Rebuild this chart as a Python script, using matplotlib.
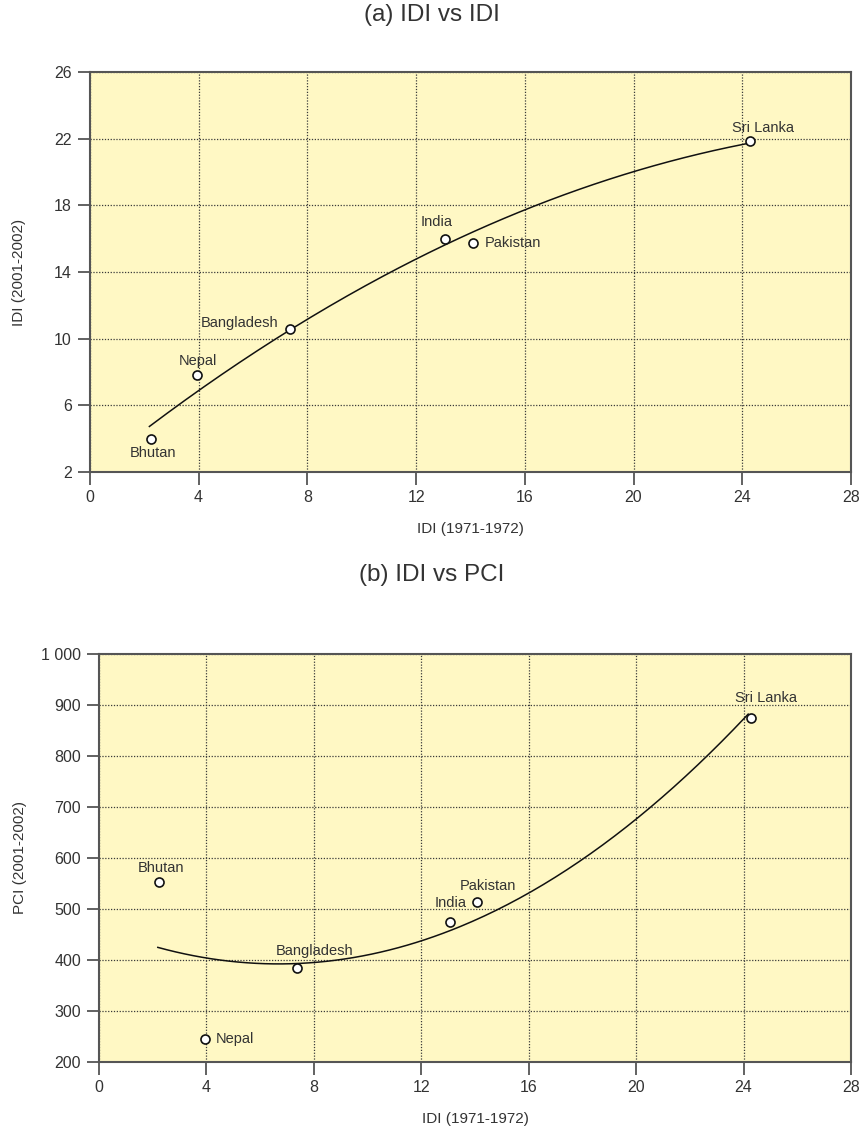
import matplotlib
matplotlib.use("Agg")
import matplotlib.pyplot as plt
import numpy as np

plt.rcParams['font.family'] = ['Liberation Sans', 'DejaVu Sans']

countries = ["Bhutan", "Nepal", "Bangladesh", "India", "Pakistan", "Sri Lanka"]
idi_1971 = [2.24, 3.95, 7.38, 13.05, 14.08, 24.27]
idi_2001 = [3.98, 7.82, 10.55, 15.98, 15.74, 21.84]
pci_2001 = [552, 246, 384, 475, 514, 875]

# label offsets in pixels (dx, dy, ha) for each panel
offs_a = [(2, -14, 'center'), (1, 14, 'center'), (-12, 6, 'right'),
          (-8, 17, 'center'), (12, 0, 'left'), (13, 13, 'center')]
offs_b = [(2, 14, 'center'), (11, 0, 'left'), (17, 17, 'center'),
          (1, 19, 'center'), (11, 16, 'center'), (15, 20, 'center')]

bg = '#fff8c4'
edge = '#555555'
txt = '#333333'

fig = plt.figure(figsize=(8.64, 11.37), dpi=100)
ax1 = fig.add_axes([0.104, 0.585, 0.881, 0.3515])
ax2 = fig.add_axes([0.1146, 0.066, 0.8704, 0.3588])


def panel(ax, x, y, offs, yticks, ylabels, ylabel, ypad):
    xs = np.array(x)
    ys = np.array(y)
    c = np.polyfit(xs, ys, 2)
    xx = np.linspace(xs.min() - 0.05, xs.max() - 0.1, 200)
    ax.plot(xx, np.polyval(c, xx), color='#111111', lw=1.1, zorder=3)
    ax.plot(xs, ys, 'o', ms=6.5, mfc='white', mec='#111111', mew=1.2, zorder=4)
    for name, xi, yi, (dx, dy, ha) in zip(countries, xs, ys, offs):
        ax.annotate(name, (xi, yi), xytext=(dx, dy), textcoords='offset pixels',
                    ha=ha, va='center', fontsize=10.5, color=txt, zorder=5)
    ax.set_facecolor(bg)
    ax.set_xlim(0, 28)
    ax.set_xticks(range(0, 29, 4))
    ax.set_ylim(yticks[0], yticks[-1])
    ax.set_yticks(yticks)
    ax.set_yticklabels(ylabels)
    ax.grid(True, ls=(0, (1, 1.3)), color='#3a3a3a', lw=0.9)
    for s in ax.spines.values():
        s.set_color(edge)
        s.set_linewidth(1.5)
    ax.tick_params(direction='out', length=9, width=1.3, color=edge,
                   labelsize=11.5, labelcolor=txt, pad=4)
    ax.set_xlabel("IDI (1971-1972)", fontsize=11, color=txt, labelpad=12)
    ax.set_ylabel(ylabel, fontsize=11, color=txt, labelpad=ypad)


yt1 = list(range(2, 27, 4))
panel(ax1, idi_1971, idi_2001, offs_a, yt1, [str(v) for v in yt1],
      "IDI (2001-2002)", 20)
yt2 = list(range(200, 1001, 100))
panel(ax2, idi_1971, pci_2001, offs_b, yt2,
      [str(v) if v < 1000 else "1 000" for v in yt2], "PCI (2001-2002)", 10)

fig.text(0.5, 0.987, "(a) IDI vs IDI", ha='center', va='center', fontsize=17.5, color=txt)
fig.text(0.5, 0.494, "(b) IDI vs PCI", ha='center', va='center', fontsize=17.5, color=txt)

fig.savefig("out.png", dpi=100)
